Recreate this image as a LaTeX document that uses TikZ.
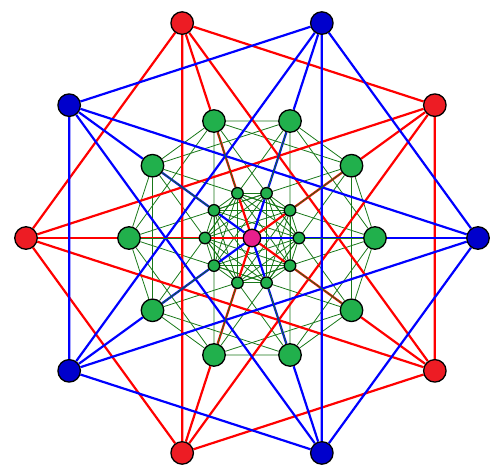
\documentclass[tikz,border=0pt]{standalone}
\usepackage{amsmath}
\usepackage{tikz}
\definecolor{ffqqqq}{rgb}{1.,0.,0.}
\definecolor{qqqqff}{rgb}{0.,0.,1.}
\definecolor{qqwuqq}{rgb}{0.1,0.47,0.1}
\definecolor{edbbcc}{rgb}{0.93,0.11,0.14}
\definecolor{qqqqcc}{rgb}{0.,0.,0.8}
\definecolor{ccttqq}{rgb}{0.13,0.69,0.3}
\definecolor{eeccqq}{rgb}{0.91,0.12,0.55}
\pgfdeclarelayer{bg}
\pgfsetlayers{bg,main}

\begin{document}
\begin{tikzpicture}[line cap=round,line join=round,x=1pt,y=1pt,
  rline/.style={color=ffqqqq,line width=2.2pt},
  bline/.style={color=qqqqff,line width=2.2pt},
  gline/.style={color=qqwuqq,line width=0.8pt},
  vtx/.style={circle,draw=black,line width=1.3pt,inner sep=0pt}]
\useasboundingbox (-252,-237) rectangle (248,238);
% outer ring: red and blue
\foreach \k in {1,3,5,7,9}
  \node[vtx,fill=edbbcc,minimum size=22.5pt] (o\k) at (36*\k:226) {};
\foreach \k in {0,2,4,6,8}
  \node[vtx,fill=qqqqcc,minimum size=22.5pt] (o\k) at (36*\k:226) {};
% middle and inner rings
\foreach \k in {0,...,9} {
  \node[vtx,fill=ccttqq,minimum size=22.5pt] (m\k) at (36*\k:123) {};
  \node[vtx,fill=ccttqq,minimum size=11.5pt] (i\k) at (36*\k:47) {};
}
\node[vtx,fill=eeccqq,minimum size=17.5pt] (c) at (0,0) {};
\begin{pgfonlayer}{bg}
% green edges
\foreach \k in {0,...,9} {
  \pgfmathtruncatemacro{\p}{mod(\k+1,10)}
  \pgfmathtruncatemacro{\q}{mod(\k+2,10)}
  \pgfmathtruncatemacro{\r}{mod(\k+4,10)}
  \draw[gline] (m\k) -- (m\p) (m\k) -- (m\q) (m\k) -- (m\r);
  \foreach \d in {1,...,4} {
    \pgfmathtruncatemacro{\j}{mod(\k+\d,10)}
    \draw[gline] (i\k) -- (i\j);
  }
}
% the two K5 and the spokes
\foreach \k in {1,3,5,7,9} {
  \pgfmathtruncatemacro{\q}{mod(\k+2,10)}
  \pgfmathtruncatemacro{\r}{mod(\k+4,10)}
  \draw[rline] (o\k) -- (o\q) (o\k) -- (o\r);
  \draw[rline] (o\k) -- (m\k) (m\k) -- (i\k) (i\k) -- (c);
}
\foreach \k in {0,2,4,6,8} {
  \pgfmathtruncatemacro{\q}{mod(\k+2,10)}
  \pgfmathtruncatemacro{\r}{mod(\k+4,10)}
  \draw[bline] (o\k) -- (o\q) (o\k) -- (o\r);
  \draw[bline] (o\k) -- (m\k) (m\k) -- (i\k) (i\k) -- (c);
}
\foreach \k in {0,...,9}
  \draw[gline] (m\k) -- (i\k);
\end{pgfonlayer}
\end{tikzpicture}
\end{document}
